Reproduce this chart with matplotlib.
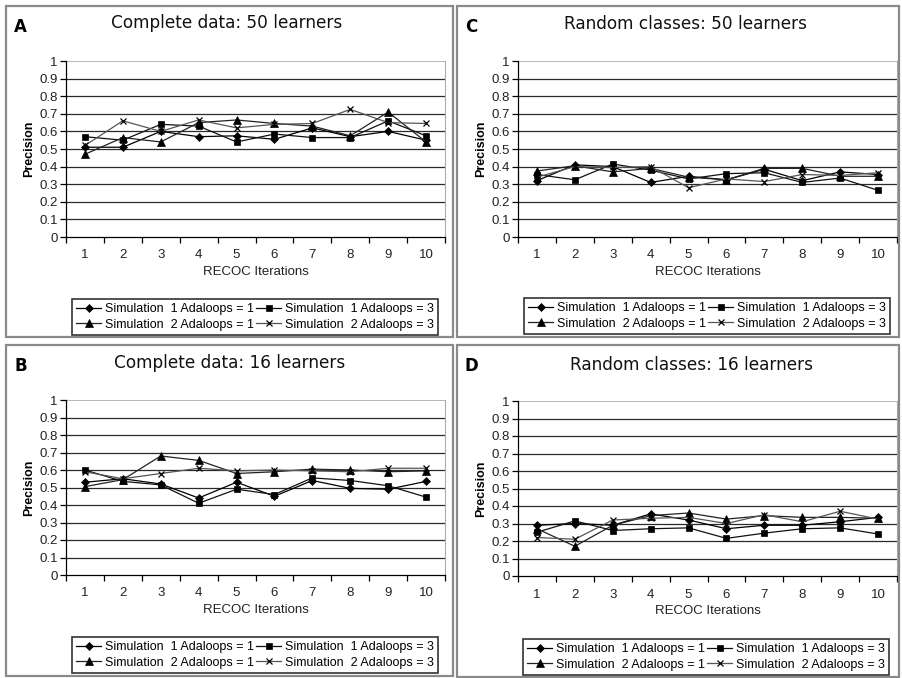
import matplotlib
matplotlib.use('Agg')
import matplotlib.pyplot as plt
from matplotlib.patches import Rectangle

iterations = [1, 2, 3, 4, 5, 6, 7, 8, 9, 10]
series_labels = ['Simulation  1 Adaloops = 1', 'Simulation  1 Adaloops = 3',
                 'Simulation  2 Adaloops = 1', 'Simulation  2 Adaloops = 3']

# panel A: complete data, 50 learners
a_sim1_ada1 = [0.51, 0.51, 0.60, 0.57, 0.575, 0.555, 0.62, 0.57, 0.60, 0.55]
a_sim1_ada3 = [0.57, 0.55, 0.64, 0.63, 0.54, 0.585, 0.565, 0.565, 0.66, 0.575]
a_sim2_ada1 = [0.47, 0.565, 0.54, 0.65, 0.665, 0.645, 0.63, 0.575, 0.71, 0.54]
a_sim2_ada3 = [0.52, 0.66, 0.60, 0.665, 0.62, 0.64, 0.645, 0.725, 0.65, 0.645]

# panel B: complete data, 16 learners
b_sim1_ada1 = [0.53, 0.55, 0.52, 0.44, 0.53, 0.45, 0.54, 0.495, 0.49, 0.535]
b_sim1_ada3 = [0.60, 0.535, 0.515, 0.41, 0.49, 0.46, 0.555, 0.54, 0.51, 0.445]
b_sim2_ada1 = [0.505, 0.545, 0.68, 0.655, 0.58, 0.59, 0.605, 0.60, 0.59, 0.595]
b_sim2_ada3 = [0.59, 0.55, 0.58, 0.61, 0.595, 0.60, 0.595, 0.59, 0.61, 0.61]

# panel C: random classes, 50 learners
c_sim1_ada1 = [0.32, 0.41, 0.40, 0.31, 0.345, 0.325, 0.385, 0.32, 0.37, 0.355]
c_sim1_ada3 = [0.355, 0.325, 0.415, 0.38, 0.33, 0.36, 0.365, 0.31, 0.335, 0.265]
c_sim2_ada1 = [0.375, 0.405, 0.37, 0.39, 0.34, 0.325, 0.39, 0.39, 0.345, 0.345]
c_sim2_ada3 = [0.34, 0.40, 0.395, 0.40, 0.28, 0.33, 0.315, 0.355, 0.35, 0.365]

# panel D: random classes, 16 learners
d_sim1_ada1 = [0.29, 0.30, 0.29, 0.355, 0.32, 0.27, 0.29, 0.29, 0.31, 0.335]
d_sim1_ada3 = [0.25, 0.315, 0.26, 0.27, 0.275, 0.215, 0.245, 0.27, 0.275, 0.24]
d_sim2_ada1 = [0.27, 0.17, 0.29, 0.345, 0.36, 0.325, 0.345, 0.335, 0.335, 0.33]
d_sim2_ada3 = [0.22, 0.21, 0.32, 0.33, 0.335, 0.30, 0.35, 0.31, 0.37, 0.325]

W, H = 902, 678
fig = plt.figure(figsize=(W / 100, H / 100), dpi=100)

markers = ['D', 's', '^', 'x']
msizes = [3.8, 4.8, 5.3, 4.8]
colors = ['#000000', '#111111', '#222222', '#555555']


def px_box(x0, y0, x1, y1):
    # pixel box (top-left origin) -> figure fraction rect
    return [x0 / W, 1 - y1 / H, (x1 - x0) / W, (y1 - y0) / H]


def draw_panel(letter, title, box, plot_box, title_xy, leg_xy, data):
    x0, y0, x1, y1 = box
    fig.patches.append(Rectangle((x0 / W, 1 - y1 / H), (x1 - x0) / W, (y1 - y0) / H,
                                 transform=fig.transFigure, fill=False,
                                 edgecolor='#8a8a8a', linewidth=1.6))
    fig.text((x0 + 8) / W, 1 - (y0 + 21) / H, letter, fontsize=12, fontweight='bold',
             family='DejaVu Sans', va='center', ha='left')
    fig.text(title_xy[0] / W, 1 - title_xy[1] / H, title, fontsize=12.2,
             family='DejaVu Sans', va='center', ha='center', color='#111111')

    ax = fig.add_axes(px_box(*plot_box))
    lines = []
    for vals, m, ms, c in zip(data, markers, msizes, colors):
        ln, = ax.plot(iterations, vals, color=c, linewidth=0.9, marker=m,
                      markersize=ms, markeredgewidth=0.9 if m == 'x' else 0.5,
                      markerfacecolor='black', markeredgecolor='black')
        lines.append(ln)

    ax.set_xlim(0.5, 10.5)
    ax.set_ylim(0, 1)
    yt = [i / 10 for i in range(11)]
    ax.set_yticks(yt)
    ax.set_yticklabels(['0'] + ['%.1f' % v for v in yt[1:-1]] + ['1'])
    ax.set_xticks(iterations)
    ax.set_xticks([i + 0.5 for i in range(0, 11)], minor=True)
    ax.tick_params(axis='x', which='major', length=0, pad=9, labelsize=9.5)
    ax.tick_params(axis='x', which='minor', length=4, width=0.9, direction='out')
    ax.tick_params(axis='y', length=4, width=0.9, direction='out', labelsize=9.5, pad=2)
    for lab in ax.get_xticklabels() + ax.get_yticklabels():
        lab.set_family('Liberation Sans')
        lab.set_color('#222222')
    for v in yt[1:-1]:
        ax.axhline(v, color='#2a2a2a', linewidth=0.9, zorder=0)
    ax.axhline(1.0, color='#aaaaaa', linewidth=1.2, zorder=0)
    ax.spines['top'].set_visible(False)
    ax.spines['right'].set_color('#aaaaaa')
    ax.spines['left'].set_linewidth(0.9)
    ax.spines['bottom'].set_linewidth(0.9)
    ax.set_xlabel('RECOC Iterations', fontsize=9.5, family='Liberation Sans',
                  labelpad=3, color='#222222')
    ax.set_ylabel('Precision', fontsize=9, family='Liberation Sans',
                  fontweight='bold', labelpad=3)

    order = [0, 2, 1, 3]
    leg = fig.legend([lines[i] for i in order], [series_labels[i] for i in order],
                     loc='center', bbox_to_anchor=(leg_xy[0] / W, 1 - leg_xy[1] / H),
                     ncol=2, frameon=True, fancybox=False,
                     handlelength=2.0, handletextpad=0.3, columnspacing=0.2,
                     labelspacing=0.25, borderpad=0.35, borderaxespad=0,
                     prop={'family': 'Liberation Sans', 'size': 9})
    leg.get_frame().set_edgecolor('black')
    leg.get_frame().set_linewidth(1.2)
    return ax


draw_panel('A', 'Complete data: 50 learners', (6, 6, 453, 337), (66, 61, 445, 237),
           (227, 23), (255, 317), [a_sim1_ada1, a_sim1_ada3, a_sim2_ada1, a_sim2_ada3])
draw_panel('C', 'Random classes: 50 learners', (457, 6, 899, 337), (518, 61, 897, 237),
           (685, 24), (707, 316), [c_sim1_ada1, c_sim1_ada3, c_sim2_ada1, c_sim2_ada3])
draw_panel('B', 'Complete data: 16 learners', (6, 345, 453, 676), (66, 400, 445, 575),
           (230, 363), (255, 655), [b_sim1_ada1, b_sim1_ada3, b_sim2_ada1, b_sim2_ada3])
draw_panel('D', 'Random classes: 16 learners', (457, 345, 899, 677), (518, 401, 897, 576),
           (692, 365), (706, 657), [d_sim1_ada1, d_sim1_ada3, d_sim2_ada1, d_sim2_ada3])

fig.savefig('out.png', dpi=100)
